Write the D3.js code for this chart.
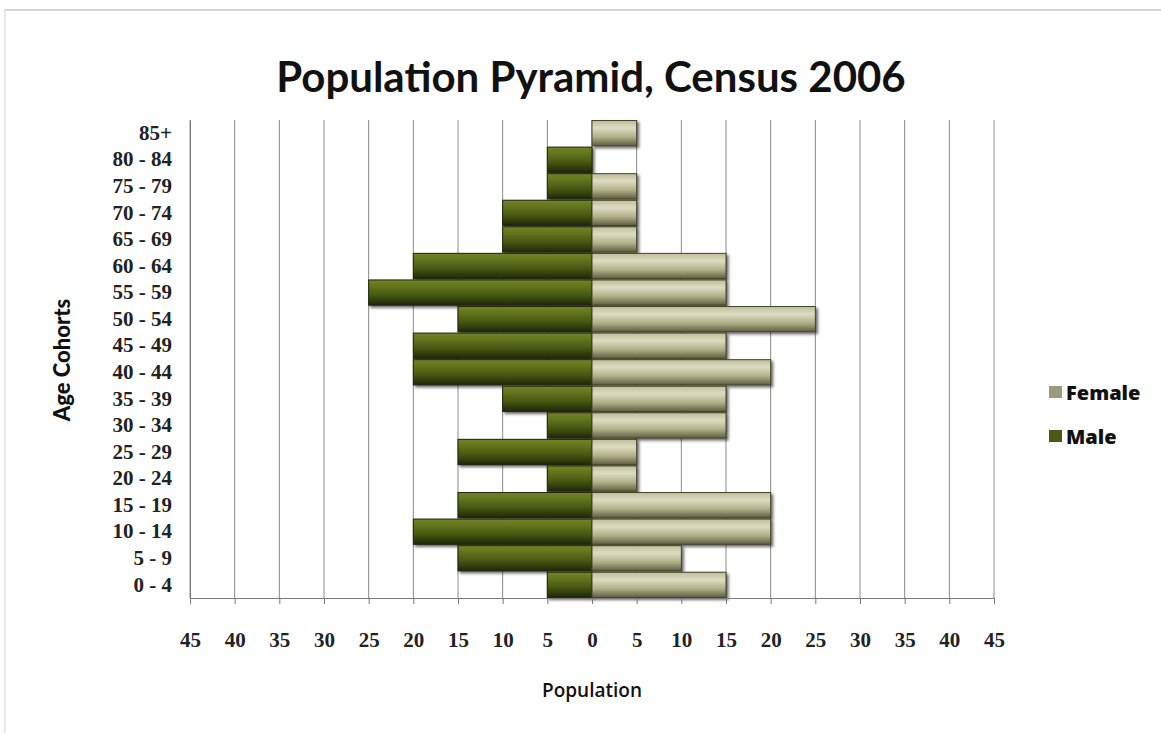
<!DOCTYPE html>
<html>
<head>
<meta charset="utf-8">
<script src="https://cdn.jsdelivr.net/npm/d3@7"></script>
<style>
  body { margin: 0; background: #fff; }
  svg { display: block; }
</style>
</head>
<body>
<svg id="chart_svg" width="1161" height="733"></svg>
<script>
// Age cohorts, top to bottom as drawn
var cohorts = ["85+", "80 - 84", "75 - 79", "70 - 74", "65 - 69", "60 - 64", "55 - 59", "50 - 54",
    "45 - 49", "40 - 44", "35 - 39", "30 - 34", "25 - 29", "20 - 24", "15 - 19", "10 - 14", "5 - 9", "0 - 4"];

// Population per cohort
var female = [5, 0, 5, 5, 5, 15, 15, 25, 15, 20, 15, 15, 5, 5, 20, 20, 10, 15];
var male   = [0, 5, 5, 10, 10, 20, 25, 15, 20, 20, 10, 5, 15, 5, 15, 20, 15, 5];

// Axis ticks (labels shown as absolute values)
var xTicks = [-45, -40, -35, -30, -25, -20, -15, -10, -5, 0, 5, 10, 15, 20, 25, 30, 35, 40, 45];

var svg = d3.select("#chart_svg");

// Outer frame of the chart object
svg.append("line").attr("x1", 5).attr("x2", 1161).attr("y1", 10).attr("y2", 10)
    .style("stroke", "#c8c8c8").style("stroke-width", 1.5);
svg.append("line").attr("x1", 5).attr("x2", 5).attr("y1", 10).attr("y2", 733)
    .style("stroke", "#d0d0d0").style("stroke-width", 1);

// Scales
var xScale = d3.scaleLinear().domain([-45, 45]).range([190, 994]);
var yScale = d3.scaleBand().domain(cohorts).range([120, 598]).paddingInner(0.05).paddingOuter(0.02);

// Gradients and shadow
var defs = svg.append("defs");
var gMale = defs.append("linearGradient").attr("id", "gradMale").attr("x1", 0).attr("x2", 0).attr("y1", 0).attr("y2", 1);
gMale.append("stop").attr("offset", "0%").attr("stop-color", "#738428");
gMale.append("stop").attr("offset", "25%").attr("stop-color", "#62751c");
gMale.append("stop").attr("offset", "60%").attr("stop-color", "#465812");
gMale.append("stop").attr("offset", "100%").attr("stop-color", "#1f2607");

var gFemale = defs.append("linearGradient").attr("id", "gradFemale").attr("x1", 0).attr("x2", 0).attr("y1", 0).attr("y2", 1);
gFemale.append("stop").attr("offset", "0%").attr("stop-color", "#bfbf98");
gFemale.append("stop").attr("offset", "30%").attr("stop-color", "#dcdcc2");
gFemale.append("stop").attr("offset", "65%").attr("stop-color", "#b0b088");
gFemale.append("stop").attr("offset", "100%").attr("stop-color", "#5e5e40");

var shadow = defs.append("filter").attr("id", "barShadow")
    .attr("x", "-5%").attr("y", "-20%").attr("width", "115%").attr("height", "160%");
shadow.append("feDropShadow").attr("dx", 2).attr("dy", 2).attr("stdDeviation", 1.5)
    .attr("flood-color", "#000").attr("flood-opacity", 0.6);

// Gridlines
svg.append("g")
    .selectAll("line")
    .data(xTicks)
    .enter()
    .append("line")
        .attr("x1", d => xScale(d))
        .attr("x2", d => xScale(d))
        .attr("y1", 120)
        .attr("y2", 598)
        .style("stroke", "#8a8a8a")
        .style("stroke-width", 1);

// Bars
var rows = cohorts.map(function(c, i) { return { cohort: c, female: female[i], male: male[i] }; });

svg.append("g")
    .selectAll("rect")
    .data(rows.filter(d => d.male > 0))
    .enter()
    .append("rect")
        .attr("x", d => xScale(-d.male))
        .attr("y", d => yScale(d.cohort))
        .attr("width", d => xScale(0) - xScale(-d.male))
        .attr("height", yScale.bandwidth())
        .attr("fill", "url(#gradMale)")
        .attr("stroke", "#20260a")
        .attr("stroke-width", 1)
        .attr("filter", "url(#barShadow)");

svg.append("g")
    .selectAll("rect")
    .data(rows.filter(d => d.female > 0))
    .enter()
    .append("rect")
        .attr("x", xScale(0))
        .attr("y", d => yScale(d.cohort))
        .attr("width", d => xScale(d.female) - xScale(0))
        .attr("height", yScale.bandwidth())
        .attr("fill", "url(#gradFemale)")
        .attr("stroke", "#44442c")
        .attr("stroke-width", 1)
        .attr("filter", "url(#barShadow)");

// X axis
var xAxis = svg.append("g")
    .attr("transform", "translate(0,598)")
    .call(d3.axisBottom(xScale).tickValues(xTicks).tickSize(6).tickPadding(28)
        .tickFormat(d => Math.abs(d)));
xAxis.select(".domain").style("stroke", "#7a7a7a");
xAxis.selectAll(".tick line").style("stroke", "#7a7a7a");
xAxis.selectAll("text")
    .style("font-family", "'Liberation Serif', 'DejaVu Serif', serif")
    .style("font-weight", "bold")
    .style("font-size", "21px")
    .style("fill", "#222");

// Y axis
var yAxis = svg.append("g")
    .attr("transform", "translate(190,0)")
    .call(d3.axisLeft(yScale).tickSize(0).tickPadding(18));
yAxis.select(".domain").style("stroke", "#7a7a7a");
yAxis.selectAll("text")
    .style("font-family", "'Liberation Serif', 'DejaVu Serif', serif")
    .style("font-weight", "bold")
    .style("font-size", "21px")
    .style("fill", "#222")
    .style("white-space", "pre");

// Title
svg.append("text")
    .attr("x", 591).attr("y", 92)
    .attr("text-anchor", "middle")
    .style("font-family", "Lato, 'Open Sans', sans-serif")
    .style("font-weight", "bold")
    .style("font-size", "42px")
    .style("fill", "#111")
    .text("Population Pyramid, Census 2006");

// Axis titles
svg.append("text")
    .attr("x", 592).attr("y", 697)
    .attr("text-anchor", "middle")
    .style("font-family", "'Open Sans', Lato, sans-serif")
    .style("font-weight", "600")
    .style("font-size", "19px")
    .style("fill", "#111")
    .text("Population");

svg.append("text")
    .attr("transform", "translate(70,360) rotate(-90)")
    .attr("text-anchor", "middle")
    .style("font-family", "Lato, 'Open Sans', sans-serif")
    .style("font-weight", "900")
    .style("font-size", "22px")
    .style("fill", "#111")
    .text("Age Cohorts");

// Legend
var legend = [{ name: "Female", fill: "#9c9c7c", y: 392 }, { name: "Male", fill: "#4a5a14", y: 436 }];
var lg = svg.append("g").selectAll("g").data(legend).enter().append("g");
lg.append("rect")
    .attr("x", 1049).attr("y", d => d.y - 6)
    .attr("width", 13).attr("height", 12)
    .attr("fill", d => d.fill);
lg.append("text")
    .attr("x", 1066).attr("y", d => d.y + 8)
    .style("font-family", "'Open Sans', Lato, sans-serif")
    .style("font-weight", "800")
    .style("font-size", "20px")
    .style("fill", "#111")
    .text(d => d.name);
</script>
</body>
</html>
